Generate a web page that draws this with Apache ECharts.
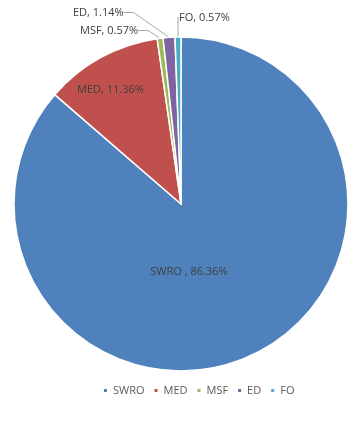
<!DOCTYPE html>
<html><head><meta charset="utf-8">
<script src="https://cdn.jsdelivr.net/npm/echarts@6/dist/echarts.min.js"></script>
<style>html,body{margin:0;padding:0;background:#fff}#c{width:360px;height:423px}</style>
</head><body><div id="c"></div>
<script>
const categories = ['SWRO', 'MED', 'MSF', 'ED', 'FO'];
const values = [86.36, 11.36, 0.57, 1.14, 0.57];
const labelTexts = ['SWRO , 86.36%', 'MED, 11.36%', 'MSF, 0.57%', 'ED, 1.14%', 'FO, 0.57%'];
const colors = ['#4F81BD', '#C0504D', '#9BBB59', '#8064A2', '#4BACC6'];

const chart = echarts.init(document.getElementById('c'));
const font = '"Open Sans", "Liberation Sans", sans-serif';
const outsidePos = {2: [80, 25], 3: [73, 7], 4: [179, 12]};
const data = categories.map((c, i) => {
  const d = {name: c, value: values[i], itemStyle: {color: colors[i]}};
  if (i === 0) {
    d.label = {position: 'inside', offset: [-28, -11]};
    d.labelLine = {show: false};
  } else if (i === 1) {
    d.label = {position: 'inside', offset: [-29, -38]};
    d.labelLine = {show: false};
  } else {
    d.label = {position: 'outside'};
    d.labelLine = {show: true, length: 10, length2: 10, lineStyle: {color: '#a6a6a6', width: 1}};
  }
  return d;
});

chart.setOption({
  animation: false,
  color: colors,
  legend: {
    bottom: 22, left: 97, itemWidth: 5, itemHeight: 5, itemGap: 8,
    icon: 'rect',
    textStyle: {fontFamily: font, fontSize: 11, color: '#595959'},
    data: categories
  },
  series: [{
    type: 'pie',
    center: [181, 204],
    radius: [0, 167],
    startAngle: 90,
    clockwise: true,
    avoidLabelOverlap: false,
    itemStyle: {borderColor: '#fff', borderWidth: 1.5},
    label: {
      fontFamily: font, fontSize: 11, color: '#404040',
      formatter: p => labelTexts[p.dataIndex]
    },
    labelLayout: function (params) {
      const p = outsidePos[params.dataIndex];
      if (p) return {x: p[0], y: p[1], align: 'left', verticalAlign: 'top'};
      return {};
    },
    data: data
  }]
});
</script></body></html>
